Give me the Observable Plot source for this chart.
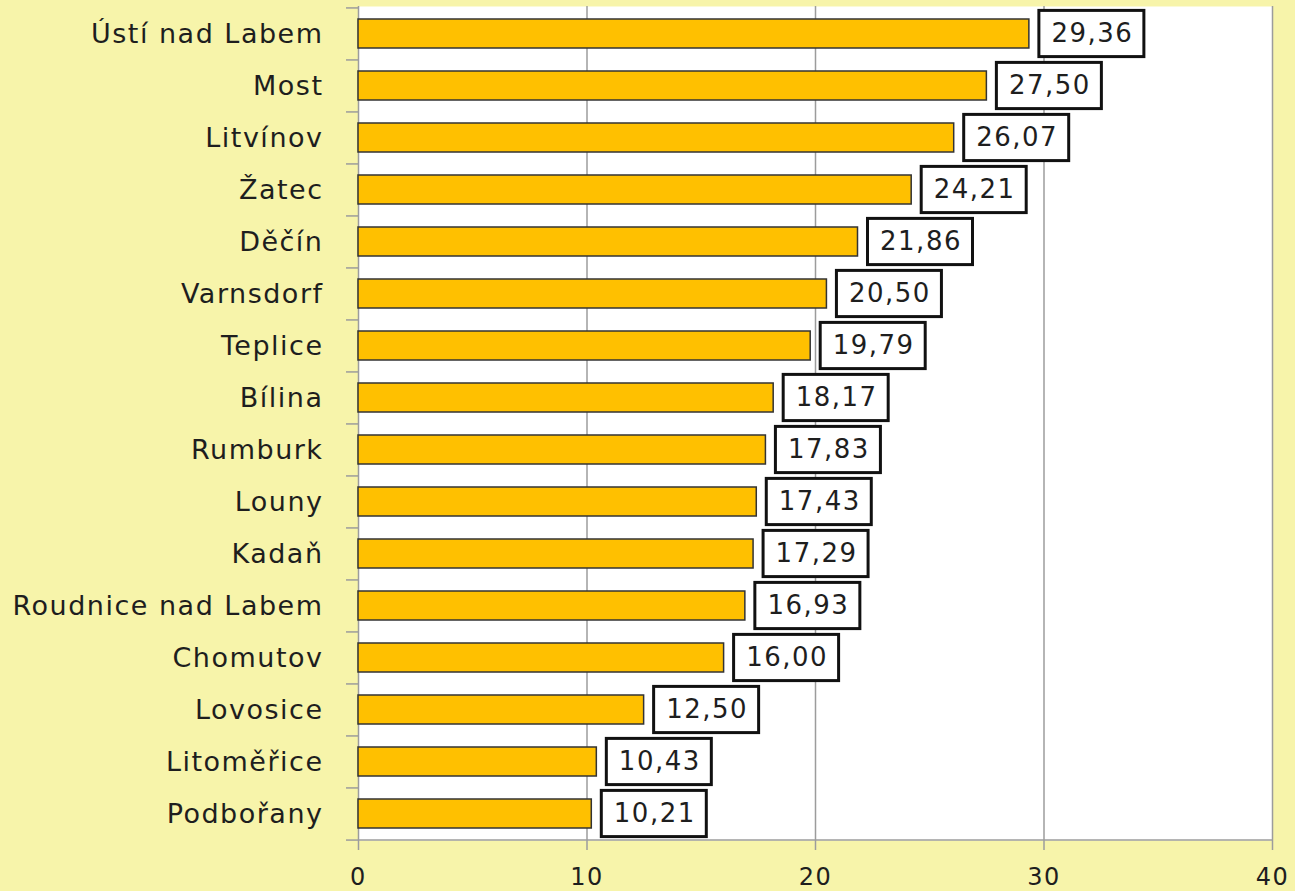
<!DOCTYPE html>
<html>
<head>
<meta charset="utf-8">
<script src="https://cdn.jsdelivr.net/npm/d3@7"></script>
<script src="https://cdn.jsdelivr.net/npm/@observablehq/plot@0.6"></script>
<style>
  html, body { margin: 0; padding: 0; background: #F7F4AA; }
  g[aria-label="y-axis tick label"] text { letter-spacing: 1.5px; }
  g[aria-label="x-axis tick label"] text { letter-spacing: 1.5px; }
  g[aria-label="text"] text { letter-spacing: 1.5px; }
</style>
</head>
<body>
<div id="chart"></div>
<script>
const cities = [
  "Ústí nad Labem", "Most", "Litvínov", "Žatec", "Děčín", "Varnsdorf",
  "Teplice", "Bílina", "Rumburk", "Louny", "Kadaň", "Roudnice nad Labem",
  "Chomutov", "Lovosice", "Litoměřice", "Podbořany"
];
const values = [29.36, 27.50, 26.07, 24.21, 21.86, 20.50, 19.79, 18.17, 17.83, 17.43, 17.29, 16.93, 16.00, 12.50, 10.43, 10.21];
const xTicks = [0, 10, 20, 30, 40];

const data = cities.map((city, i) => ({city, value: values[i]}));

const W = 1295, H = 891, mT = 6, mB = 51, mL = 358, mR = 23;
const step = (H - mT - mB) / cities.length;
const fmt = v => v.toFixed(2).replace(".", ",");

const chart = Plot.plot({
  width: W, height: H,
  marginLeft: mL, marginRight: mR, marginTop: mT, marginBottom: mB,
  style: {background: "#F7F4AA", fontFamily: "DejaVu Sans", color: "#1e1e1e", overflow: "visible"},
  x: {domain: [0, 40], label: null},
  y: {domain: cities, paddingInner: 0.45, paddingOuter: 0.225, label: null},
  marks: [
    Plot.frame({fill: "white", stroke: null}),
    Plot.gridX({ticks: xTicks.slice(1), stroke: "#9c9c9c", strokeOpacity: 1, strokeWidth: 1.5}),
    Plot.ruleX([0], {stroke: "#9c9c9c", strokeWidth: 1.5}),
    Plot.ruleY([cities[cities.length - 1]], {dy: step / 2, stroke: "#9c9c9c", strokeWidth: 1.5}),
    Plot.axisY({tickSize: 12, tickFormat: () => "", dy: -step / 2, stroke: "#9c9c9c", strokeWidth: 1.5, label: null}),
    Plot.axisY({ticks: [cities[cities.length - 1]], tickSize: 12, tickFormat: () => "", dy: step / 2, stroke: "#9c9c9c", strokeWidth: 1.5, label: null}),
    Plot.axisY({tickSize: 0, tickPadding: 35, fontSize: 27, label: null, fill: "#1e1e1e"}),
    Plot.axisX({ticks: xTicks, tickSize: 10, tickPadding: 17, fontSize: 24, stroke: "#9c9c9c", strokeWidth: 1.5, fill: "#1e1e1e", label: null, tickFormat: d => String(d)}),
    Plot.barX(data, {x: "value", y: "city", fill: "#FFC000", stroke: "#333", strokeWidth: 1.5}),
    Plot.barX(data, {x1: "value", x2: "value", y: "city", insetLeft: 10, insetRight: -115, insetTop: -8.6, insetBottom: -8.6, fill: "white", stroke: "#111", strokeWidth: 3}),
    Plot.text(data, {x: "value", y: "city", text: d => fmt(d.value), dx: 63, fontSize: 26, textAnchor: "middle", fill: "#1e1e1e"})
  ]
});
document.getElementById("chart").append(chart);
</script>
</body>
</html>
